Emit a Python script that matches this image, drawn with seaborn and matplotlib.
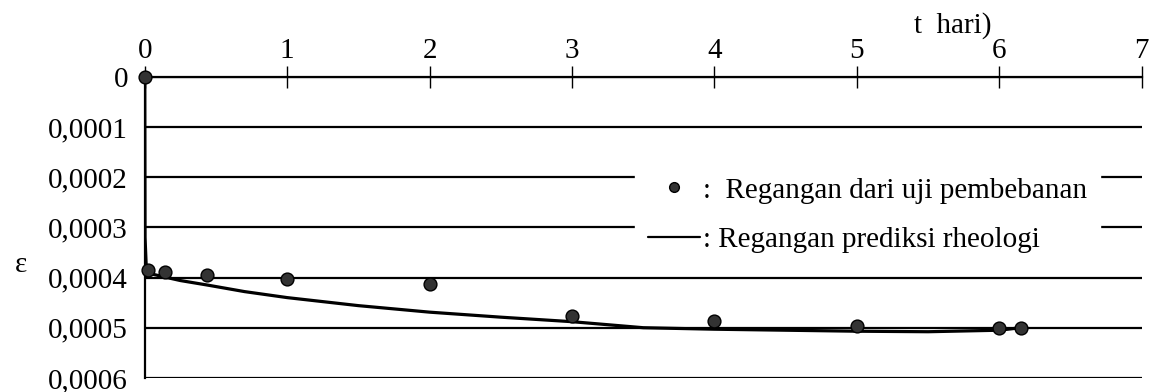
import numpy as np
import pandas as pd
import matplotlib
matplotlib.use("Agg")
import matplotlib.pyplot as plt
import seaborn as sns
from matplotlib.lines import Line2D

# data
uji_t = [0, 0.02, 0.14, 0.44, 1.0, 2.0, 3.0, 4.0, 5.0, 6.0, 6.15]
uji_eps = [0, 0.000385, 0.000389, 0.000395, 0.000402, 0.000413,
           0.000477, 0.000487, 0.000497, 0.0005, 0.0005]

rheo_t = [0, 0.002, 0.01, 0.05, 0.14, 0.25, 0.44, 0.7, 1.0, 1.5, 2.0,
          2.5, 3.0, 3.5, 4.0, 4.5, 5.0, 5.5, 6.0, 6.15]
rheo_eps = [0, 0.00032, 0.000375, 0.000393, 0.000399, 0.000406, 0.000415,
            0.000428, 0.00044, 0.000456, 0.000469, 0.000479, 0.000488,
            0.0005, 0.000503, 0.000505, 0.000507, 0.000508, 0.000505, 0.0005]

x_ticks = [0, 1, 2, 3, 4, 5, 6, 7]
y_ticks = [0, 0.0001, 0.0002, 0.0003, 0.0004, 0.0005, 0.0006]
y_labels = ["0", "0,0001", "0,0002", "0,0003", "0,0004", "0,0005", "0,0006"]

df_uji = pd.DataFrame({"t": uji_t, "eps": uji_eps})
df_rheo = pd.DataFrame({"t": rheo_t, "eps": rheo_eps})

sns.set_style("white")
plt.rcParams["font.family"] = ["Liberation Serif", "DejaVu Serif"]
plt.rcParams["text.color"] = "black"
plt.rcParams["xtick.color"] = "black"
plt.rcParams["ytick.color"] = "black"

fs = 21

fig = plt.figure(figsize=(11.58, 3.92), dpi=100)
ax = fig.add_axes([0.125, 0.036, 0.861, 0.768])

sns.lineplot(data=df_rheo, x="t", y="eps", color="black", linewidth=2.3,
             ax=ax, zorder=3)
sns.scatterplot(data=df_uji, x="t", y="eps", color="#333333", edgecolor="black",
                s=85, linewidth=1, ax=ax, zorder=4, clip_on=False)

ax.set_xlim(0, 7)
ax.set_ylim(0.0006, 0)
ax.set_xticks(x_ticks)
ax.set_yticks(y_ticks)
ax.set_yticklabels(y_labels)
ax.xaxis.tick_top()
ax.tick_params(axis="x", direction="inout", length=16, width=1, color="black",
               labelsize=fs, pad=1)
ax.tick_params(axis="y", length=0, labelsize=fs, pad=12)
ax.grid(axis="y", color="black", linewidth=1.6)
ax.set_axisbelow(True)

for side in ["right", "bottom"]:
    ax.spines[side].set_visible(False)
for side in ["top", "left"]:
    ax.spines[side].set_color("black")
    ax.spines[side].set_linewidth(1.6)

ax.set_xlabel("")
ax.set_ylabel("")
fig.text(0.823, 0.935, "t  hari)", fontsize=fs, ha="center", va="center")
fig.text(0.018, 0.325, "ε", fontsize=fs, ha="center", va="center")

handles = [
    Line2D([], [], marker="o", linestyle="none", color="#333333",
           markeredgecolor="black", markersize=7),
    Line2D([], [], color="black", linewidth=1.6),
]
labels = [":  Regangan dari uji pembebanan", ": Regangan prediksi rheologi"]
leg = ax.legend(handles, labels, loc="center", bbox_to_anchor=(0.725, 0.54),
                fontsize=fs, frameon=True, framealpha=1, handlelength=1.8,
                handletextpad=0.1, borderpad=0.45, labelspacing=0.8,
                fancybox=False)
leg.get_frame().set_facecolor("white")
leg.get_frame().set_edgecolor("white")
leg.set_zorder(5)

fig.savefig("out.png", dpi=100, facecolor="white")
